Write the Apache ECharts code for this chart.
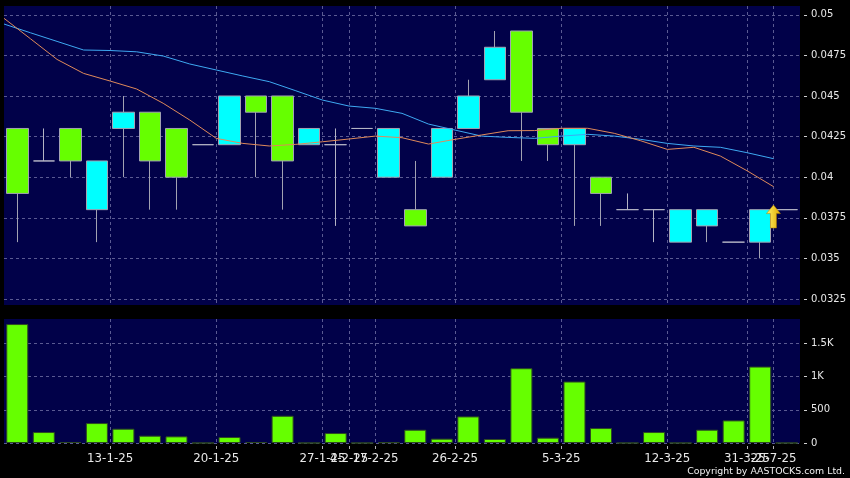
<!DOCTYPE html>
<html><head><meta charset="utf-8">
<script src="https://cdn.jsdelivr.net/npm/echarts@6/dist/echarts.min.js"></script>
<style>html,body{margin:0;padding:0;background:#000;}#c{width:850px;height:478px;}</style>
</head><body><div id="c"></div>
<script>
// label shown at the left edge of each daily slot ('' = none)
const slotLabels = ['', '', '', '', '13-1-25', '', '', '', '20-1-25', '', '', '', '27-1-25', '4-2-25', '17-2-25', '', '', '26-2-25', '', '', '', '5-3-25', '', '', '', '12-3-25', '', '', '31-3-25', '25-7-25'];
const openP  = [0.043,0.041,0.043,0.038,0.043,0.044,0.043,0.042,0.042,0.045,0.045,0.042,0.042,0.043,0.040,0.038,0.040,0.043,0.046,0.049,0.043,0.042,0.040,0.038,0.038,0.036,0.037,0.036,0.036,0.038];
const closeP = [0.039,0.041,0.041,0.041,0.044,0.041,0.040,0.042,0.045,0.044,0.041,0.043,0.042,0.043,0.043,0.037,0.043,0.045,0.048,0.044,0.042,0.043,0.039,0.038,0.038,0.038,0.038,0.036,0.038,0.038];
const lowP   = [0.036,0.041,0.040,0.036,0.040,0.038,0.038,0.042,0.042,0.040,0.038,0.042,0.037,0.043,0.040,0.037,0.040,0.043,0.046,0.041,0.041,0.037,0.037,0.038,0.036,0.036,0.036,0.036,0.035,0.038];
const highP  = [0.043,0.043,0.043,0.041,0.045,0.044,0.043,0.042,0.045,0.045,0.045,0.043,0.043,0.043,0.043,0.041,0.043,0.046,0.049,0.049,0.043,0.043,0.040,0.039,0.038,0.038,0.038,0.036,0.038,0.038];
const volume = [1790,165,15,300,215,110,100,0,90,15,410,0,150,0,10,200,65,400,60,1125,80,925,225,0,165,0,200,340,1150,0];
const maShort = [0.04978,0.04852,0.04725,0.04639,0.04592,0.04543,0.04455,0.04352,0.04239,0.04208,0.04192,0.04202,0.04218,0.04235,0.04253,0.04243,0.04204,0.04233,0.04260,0.04286,0.04287,0.04301,0.04301,0.04270,0.04224,0.04171,0.04184,0.04130,0.04040,0.03942];
const maLong  = [0.04943,0.04889,0.04836,0.04783,0.04780,0.04772,0.04746,0.04697,0.04660,0.04623,0.04588,0.04532,0.04475,0.04438,0.04424,0.04393,0.04327,0.04290,0.04253,0.04245,0.04239,0.04253,0.04264,0.04253,0.04233,0.04208,0.04192,0.04184,0.04151,0.04114];
const priceTicks = [0.0325,0.035,0.0375,0.04,0.0425,0.045,0.0475,0.05];
const volumeTicks = [0,500,1000,1500];
const priceRange = [0.03213, 0.05054];
const volumeRange = [0, 1866];
const arrowPoint = [29, 0.03758];
const copyright = 'Copyright by AASTOCKS.com Ltd.';

const boundaryLabels = slotLabels.concat(['']);
const candles = openP.map((o, i) => [o, closeP[i], lowP[i], highP[i]]);

const FONT = 'DejaVu Sans';
const gridLine = { show: true, lineStyle: { color: '#5a5a92', type: [3, 3], width: 1 } };
const hasLabel = (i, v) => v !== '';

const chart = echarts.init(document.getElementById('c'), null, { renderer: 'canvas' });
chart.setOption({
  backgroundColor: '#000000',
  animation: false,
  grid: [
    { left: 4, right: 50, top: 6, height: 299, show: true, backgroundColor: '#010149', borderWidth: 0 },
    { left: 4, right: 50, top: 319, height: 124, show: true, backgroundColor: '#010149', borderWidth: 0 }
  ],
  xAxis: [
    { type: 'category', gridIndex: 0, position: 'top', data: slotLabels, boundaryGap: true, show: false },
    { type: 'category', gridIndex: 0, position: 'bottom', data: boundaryLabels, boundaryGap: false,
      axisLine: { show: false }, axisTick: { show: false }, axisLabel: { show: false },
      splitLine: Object.assign({ interval: hasLabel }, gridLine) },
    { type: 'category', gridIndex: 1, position: 'top', data: slotLabels, boundaryGap: true, show: false },
    { type: 'category', gridIndex: 1, position: 'bottom', data: boundaryLabels, boundaryGap: false, offset: 3,
      axisLine: { show: false },
      axisTick: { show: true, interval: hasLabel, length: 3, lineStyle: { color: '#b0b0b0' } },
      axisLabel: { interval: 0, color: '#e8e8e8', fontFamily: FONT, fontSize: 11.8, margin: 7 },
      splitLine: Object.assign({ interval: hasLabel }, gridLine) }
  ],
  yAxis: [
    { type: 'value', gridIndex: 0, position: 'right', min: priceRange[0], max: priceRange[1],
      minInterval: 0.0025, maxInterval: 0.0025, offset: 4, scale: true,
      axisLine: { show: false },
      axisTick: { show: true, length: 3, customValues: priceTicks, lineStyle: { color: '#d0d0d0' } },
      axisLabel: { customValues: priceTicks, color: '#e8e8e8', fontFamily: FONT, fontSize: 10, margin: 7,
        formatter: v => String(Number(v.toFixed(5))) },
      splitLine: gridLine },
    { type: 'value', gridIndex: 1, position: 'right', min: volumeRange[0], max: volumeRange[1],
      minInterval: 500, maxInterval: 500, offset: 4,
      axisLine: { show: false },
      axisTick: { show: true, length: 3, customValues: volumeTicks, lineStyle: { color: '#d0d0d0' } },
      axisLabel: { customValues: volumeTicks, color: '#e8e8e8', fontFamily: FONT, fontSize: 10, margin: 7,
        formatter: v => v >= 1000 ? (v / 1000) + 'K' : String(v) },
      splitLine: gridLine }
  ],
  series: [
    { type: 'candlestick', xAxisIndex: 0, yAxisIndex: 0, data: candles, barWidth: '83%',
      itemStyle: { color: '#00ffff', color0: '#66ff00', borderColor: '#a2a2b2', borderColor0: '#a2a2b2', borderColorDoji: '#b4b4c4', borderWidth: 1 } },
    { type: 'line', xAxisIndex: 1, yAxisIndex: 0, data: maLong, symbol: 'none', smooth: false,
      lineStyle: { color: '#3ea9f2', width: 1 } },
    { type: 'line', xAxisIndex: 1, yAxisIndex: 0, data: maShort, symbol: 'none', smooth: false,
      lineStyle: { color: '#e08a5a', width: 1 },
      markPoint: { silent: true, symbol: 'path://M7,0 L14,9 L10,9 L10,24 L4,24 L4,9 L0,9 Z', symbolSize: [14, 23],
        label: { show: false },
        itemStyle: { color: new echarts.graphic.LinearGradient(0, 0, 1, 0, [{ offset: 0, color: '#fff266' }, { offset: 1, color: '#e0a800' }]), borderColor: '#b08000', borderWidth: 0.5 },
        data: [{ coord: arrowPoint }] } },
    { type: 'bar', xAxisIndex: 2, yAxisIndex: 1, data: volume, barWidth: '83%',
      itemStyle: { color: '#66ff00', borderColor: '#2e4a22', borderWidth: 1 } }
  ],
  graphic: [
    { type: 'text', right: 5, bottom: 2, style: { text: copyright, fill: '#f0f0f0', font: '9.4px "DejaVu Sans"' } }
  ]
});
</script>
</body></html>
